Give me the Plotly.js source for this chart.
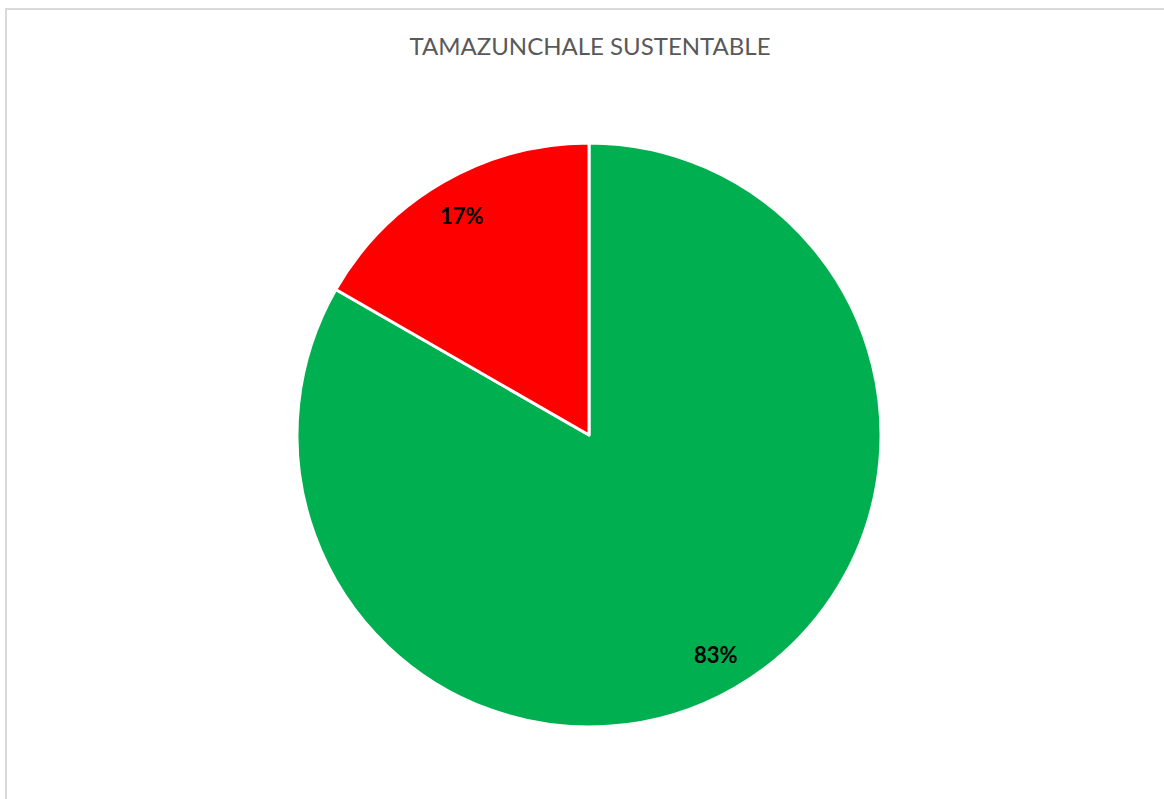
<!DOCTYPE html>
<html>
<head>
<meta charset="utf-8">
<script src="https://cdn.plot.ly/plotly-3.0.1.min.js"></script>
<style>
  html, body { margin: 0; padding: 0; background: #fff; }
  #frame { position: absolute; left: 5px; top: 8px; width: 1159px; height: 791px;
           border-left: 2px solid #d9d9d9; border-top: 2px solid #d9d9d9; box-sizing: border-box; }
  #chart { position: absolute; left: 0; top: 0; width: 1164px; height: 799px; }
</style>
</head>
<body>
<div id="frame"></div>
<div id="chart"></div>
<script>
const chartTitle = "TAMAZUNCHALE SUSTENTABLE";
const categories = ["Sí", "No"];
const values = [83.3, 16.7];
const colors = ["#00B050", "#FF0000"];

const W = 1164, H = 799;
const cx = 589, cy = 435, R = 292;
const domainX = [(cx - R) / W, (cx + R) / W];
const domainY = [1 - (cy + R) / H, 1 - (cy - R) / H];

const total = values.reduce((a, b) => a + b, 0);
let cum = 0;
const annotations = values.map((v, i) => {
  const mid = (cum + v / 2) / total * 2 * Math.PI; // clockwise from 12 o'clock
  cum += v;
  const rr = 0.87 * R;
  const px = cx + rr * Math.sin(mid);
  const py = cy - rr * Math.cos(mid);
  return {
    x: px / W, y: 1 - py / H, xref: "paper", yref: "paper",
    xanchor: "center", yanchor: "middle",
    text: Math.round(v / total * 100) + "%",
    showarrow: false,
    font: { family: "Lato, 'Open Sans', sans-serif", size: 22, color: "#000", weight: "bold" }
  };
});

const trace = {
  type: "pie",
  labels: categories,
  values: values,
  sort: false,
  direction: "clockwise",
  rotation: 0,
  textinfo: "none",
  hoverinfo: "label+percent",
  marker: { colors: colors, line: { color: "#ffffff", width: 3 } },
  domain: { x: domainX, y: domainY },
  showlegend: false
};

const layout = {
  width: W, height: H,
  margin: { l: 0, r: 0, t: 0, b: 0 },
  paper_bgcolor: "rgba(0,0,0,0)",
  plot_bgcolor: "rgba(0,0,0,0)",
  title: {
    text: chartTitle,
    x: 590 / W, xanchor: "center",
    y: 1 - 47 / H, yanchor: "middle",
    font: { family: "Lato, 'Open Sans', sans-serif", size: 24, color: "#595959" }
  },
  annotations: annotations,
  showlegend: false
};

Plotly.newPlot("chart", [trace], layout, { displayModeBar: false, staticPlot: true });
</script>
</body>
</html>
